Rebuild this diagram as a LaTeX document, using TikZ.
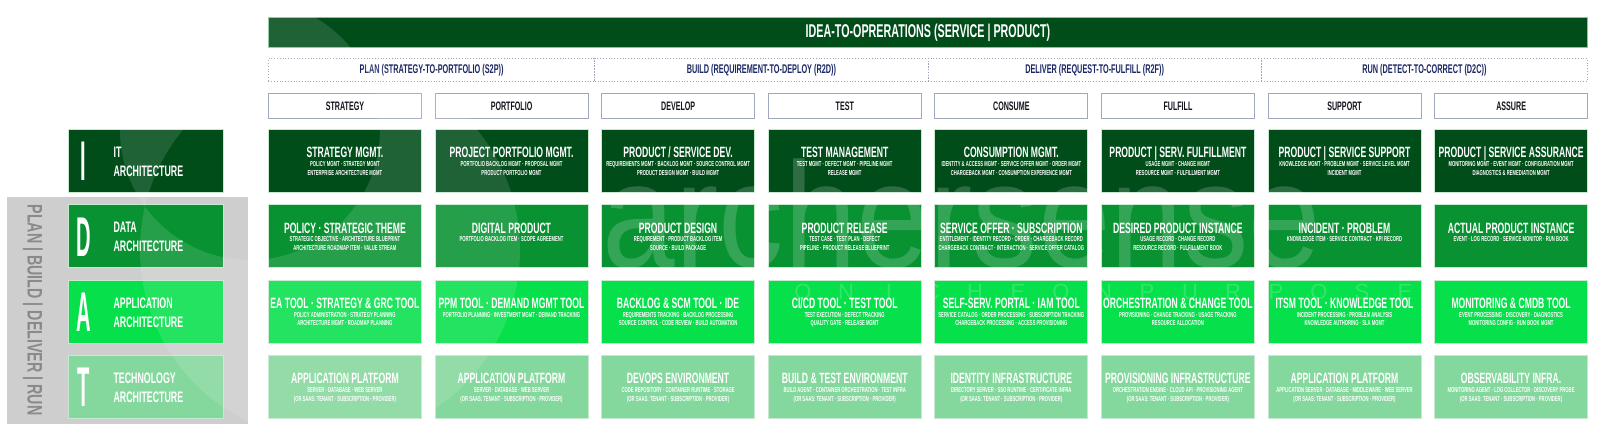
\documentclass[tikz,border=0pt]{standalone}
\usepackage{fontspec}
\newfontfamily\cf[FakeStretch=0.58]{Liberation Sans Bold}
\newfontfamily\wmf{Liberation Sans}
\usetikzlibrary{calc}
\definecolor{dkg}{RGB}{0,77,26}
\definecolor{mdg}{RGB}{8,146,50}
\definecolor{brg}{RGB}{6,224,74}
\definecolor{ltg}{RGB}{133,216,157}
\definecolor{navy}{RGB}{28,40,100}
\definecolor{hdrline}{RGB}{160,168,192}
\definecolor{cellline}{RGB}{200,232,208}
\definecolor{barline}{RGB}{140,195,155}
\definecolor{graybox}{RGB}{206,206,206}
\definecolor{graytxt}{RGB}{138,138,138}
\definecolor{hdrtxt}{RGB}{20,20,30}
\tikzset{
  cellbox/.style={draw=cellline, line width=0.8pt, minimum width=153pt, minimum height=63pt, inner sep=0pt, anchor=north west},
  lblbox/.style={draw=cellline, line width=0.8pt, minimum width=155pt, minimum height=63pt, inner sep=0pt, anchor=north west},
  hdrbox/.style={draw=hdrline, fill=white, line width=0.9pt, minimum width=153pt, minimum height=25pt, inner sep=0pt, anchor=north west},
  phasebox/.style={draw=hdrline, dotted, line width=0.8pt},
  ttl/.style={font={\cf\fontsize{14.9}{15}\selectfont}, text=white, anchor=base, inner sep=0pt},
  subl/.style={font={\cf\fontsize{7.2}{7.2}\selectfont}, text=white, anchor=base, inner sep=0pt},
  bigl/.style={font={\cf\fontsize{56}{56}\selectfont}, text=white, anchor=base, inner sep=0pt},
  lbltxt/.style={font={\cf\fontsize{15.2}{15}\selectfont}, text=white, anchor=base west, inner sep=0pt},
  hdrt/.style={font={\cf\fontsize{12.3}{12}\selectfont}, text=hdrtxt, inner sep=0pt},
  phaset/.style={font={\cf\fontsize{12.6}{12}\selectfont}, text=navy, inner sep=0pt},
  wmark/.style={text=white, text opacity=0.18, anchor=base, inner sep=0pt},
}
\newcommand\mkcell[7]{%
  \pgfmathsetmacro\cellx{268+166.6*#2}%
  \pgfmathsetmacro\celly{129+75.3*#3}%
  \node[cellbox, fill=#4] (#1) at (\cellx,\celly) {};
  \node[ttl] (#1t) at ($(#1.center)+(0,-3.2)$) {#5};
  \node[subl] (#1a) at ($(#1.center)+(0,5.6)$) {#6};
  \node[subl] (#1b) at ($(#1.center)+(0,14.3)$) {#7};
}
\newcommand\mklabel[6]{%
  \pgfmathsetmacro\celly{129+75.3*#2}%
  \node[lblbox, fill=#3] (#1) at (68,\celly) {};
  \node[bigl] (#1L) at ($(#1.center)+(-62.5,20)$) {\scalebox{0.62}[1]{#4}};
  \node[lbltxt] (#1a) at ($(#1.center)+(-32.5,-3.5)$) {#5};
  \node[lbltxt] (#1b) at ($(#1.center)+(-32.5,15.5)$) {#6};
}
\newcommand\mkhdr[3]{%
  \pgfmathsetmacro\cellx{268+166.6*#2}%
  \node[hdrbox] (#1) at (\cellx,93) {};
  \node[hdrt] (#1t) at (#1.center) {#3};
}
\begin{document}
\begin{tikzpicture}[x=1pt,y=-1pt]
\useasboundingbox (0,0) rectangle (1600,444);
\fill[white] (0,0) rectangle (1600,444);
% left grey band
\fill[graybox] (7,197) rectangle (248,424);
\node[rotate=-90, font={\cf\fontsize{21}{21}\selectfont}, text=graytxt, inner sep=0pt] (vt) at (33,310) {\scalebox{1.17}[1]{PLAN | BUILD | DELIVER | RUN}};
% top bar
\node[draw=barline, fill=dkg, line width=0.8pt, minimum width=1319pt, minimum height=30pt, inner sep=0pt, anchor=north west] (bar) at (268,17) {};
\node[font={\cf\fontsize{18.5}{18}\selectfont}, text=white, inner sep=0pt] (bart) at (bar.center) {IDEA-TO-OPRERATIONS (SERVICE | PRODUCT)};
% phases
\node[phasebox, minimum width=326.4pt, minimum height=23pt, inner sep=0pt, anchor=north west] (ph1) at (268,58) {};
\node[phasebox, minimum width=333.2pt, minimum height=23pt, inner sep=0pt, anchor=north west] (ph2) at (594.4,58) {};
\node[phasebox, minimum width=333.2pt, minimum height=23pt, inner sep=0pt, anchor=north west] (ph3) at (927.6,58) {};
\node[phasebox, minimum width=326.4pt, minimum height=23pt, inner sep=0pt, anchor=north west] (ph4) at (1260.8,58) {};
\node[phaset] (ph1t) at (ph1.center) {PLAN (STRATEGY-TO-PORTFOLIO (S2P))};
\node[phaset] (ph2t) at (ph2.center) {BUILD (REQUIREMENT-TO-DEPLOY (R2D))};
\node[phaset] (ph3t) at (ph3.center) {DELIVER (REQUEST-TO-FULFILL (R2F))};
\node[phaset] (ph4t) at (ph4.center) {RUN (DETECT-TO-CORRECT (D2C))};
% column headers
\mkhdr{h0}{0}{STRATEGY}
\mkhdr{h1}{1}{PORTFOLIO}
\mkhdr{h2}{2}{DEVELOP}
\mkhdr{h3}{3}{TEST}
\mkhdr{h4}{4}{CONSUME}
\mkhdr{h5}{5}{FULFILL}
\mkhdr{h6}{6}{SUPPORT}
\mkhdr{h7}{7}{ASSURE}
% left labels
\mklabel{lI}{0}{dkg}{I}{IT}{ARCHITECTURE}
\mklabel{lD}{1}{mdg}{D}{DATA}{ARCHITECTURE}
\mklabel{lA}{2}{brg}{A}{APPLICATION}{ARCHITECTURE}
\mklabel{lT}{3}{ltg}{T}{TECHNOLOGY}{ARCHITECTURE}
% row I
\mkcell{i0}{0}{0}{dkg}{STRATEGY MGMT.}{POLICY MGMT · STRATEGY MGMT}{ENTERPRISE ARCHITECTURE MGMT}
\mkcell{i1}{1}{0}{dkg}{PROJECT PORTFOLIO MGMT.}{PORTFOLIO BACKLOG MGMT · PROPOSAL MGMT}{PRODUCT PORTFOLIO MGMT}
\mkcell{i2}{2}{0}{dkg}{PRODUCT / SERVICE DEV.}{REQUIREMENTS MGMT · BACKLOG MGMT · SOURCE CONTROL MGMT}{PRODUCT DESIGN MGMT · BUILD MGMT}
\mkcell{i3}{3}{0}{dkg}{TEST MANAGEMENT}{TEST MGMT · DEFECT MGMT · PIPELINE MGMT}{RELEASE MGMT}
\mkcell{i4}{4}{0}{dkg}{CONSUMPTION MGMT.}{IDENTITY \& ACCESS MGMT · SERVICE OFFER MGMT · ORDER MGMT}{CHARGEBACK MGMT · CONSUMPTION EXPERIENCE MGMT}
\mkcell{i5}{5}{0}{dkg}{PRODUCT | SERV. FULFILLMENT}{USAGE MGMT · CHANGE MGMT}{RESOURCE MGMT · FULFILLMENT MGMT}
\mkcell{i6}{6}{0}{dkg}{PRODUCT | SERVICE SUPPORT}{KNOWLEDGE MGMT · PROBLEM MGMT · SERVICE LEVEL MGMT}{INCIDENT MGMT}
\mkcell{i7}{7}{0}{dkg}{PRODUCT | SERVICE ASSURANCE}{MONITORING MGMT · EVENT MGMT · CONFIGURATION MGMT}{DIAGNOSTICS \& REMEDIATION MGMT}
% row D
\mkcell{d0}{0}{1}{mdg}{POLICY · STRATEGIC THEME}{STRATEGIC OBJECTIVE · ARCHITECTURE BLUEPRINT}{ARCHITECTURE ROADMAP ITEM · VALUE STREAM}
\mkcell{d1}{1}{1}{mdg}{DIGITAL PRODUCT}{PORTFOLIO BACKLOG ITEM · SCOPE AGREEMENT}{}
\mkcell{d2}{2}{1}{mdg}{PRODUCT DESIGN}{REQUIREMENT · PRODUCT BACKLOG ITEM}{SOURCE · BUILD PACKAGE}
\mkcell{d3}{3}{1}{mdg}{PRODUCT RELEASE}{TEST CASE · TEST PLAN · DEFECT}{PIPELINE · PRODUCT RELEASE BLUEPRINT}
\mkcell{d4}{4}{1}{mdg}{SERVICE OFFER · SUBSCRIPTION}{ENTITLEMENT · IDENTITY RECORD · ORDER · CHARGEBACK RECORD}{CHARGEBACK CONTRACT · INTERACTION · SERVICE OFFER CATALOG}
\mkcell{d5}{5}{1}{mdg}{DESIRED PRODUCT INSTANCE}{USAGE RECORD · CHANGE RECORD}{RESOURCE RECORD · FULFILLMENT BOOK}
\mkcell{d6}{6}{1}{mdg}{INCIDENT · PROBLEM}{KNOWLEDGE ITEM · SERVICE CONTRACT · KPI RECORD}{}
\mkcell{d7}{7}{1}{mdg}{ACTUAL PRODUCT INSTANCE}{EVENT · LOG RECORD · SERVICE MONITOR · RUN BOOK}{}
% row A
\mkcell{a0}{0}{2}{brg}{EA TOOL · STRATEGY \& GRC TOOL}{POLICY ADMINISTRATION · STRATEGY PLANNING}{ARCHITECTURE MGMT · ROADMAP PLANNING}
\mkcell{a1}{1}{2}{brg}{PPM TOOL · DEMAND MGMT TOOL}{PORTFOLIO PLANNING · INVESTMENT MGMT · DEMAND TRACKING}{}
\mkcell{a2}{2}{2}{brg}{BACKLOG \& SCM TOOL · IDE}{REQUIREMENTS TRACKING · BACKLOG PROCESSING}{SOURCE CONTROL · CODE REVIEW · BUILD AUTOMATION}
\mkcell{a3}{3}{2}{brg}{CI/CD TOOL · TEST TOOL}{TEST EXECUTION · DEFECT TRACKING}{QUALITY GATE · RELEASE MGMT}
\mkcell{a4}{4}{2}{brg}{SELF-SERV. PORTAL · IAM TOOL}{SERVICE CATALOG · ORDER PROCESSING · SUBSCRIPTION TRACKING}{CHARGEBACK PROCESSING · ACCESS PROVISIONING}
\mkcell{a5}{5}{2}{brg}{ORCHESTRATION \& CHANGE TOOL}{PROVISIONING · CHANGE TRACKING · USAGE TRACKING}{RESOURCE ALLOCATION}
\mkcell{a6}{6}{2}{brg}{ITSM TOOL · KNOWLEDGE TOOL}{INCIDENT PROCESSING · PROBLEM ANALYSIS}{KNOWLEDGE AUTHORING · SLA MGMT}
\mkcell{a7}{7}{2}{brg}{MONITORING \& CMDB TOOL}{EVENT PROCESSING · DISCOVERY · DIAGNOSTICS}{MONITORING CONFIG · RUN BOOK MGMT}
% row T
\mkcell{t0}{0}{3}{ltg}{APPLICATION PLATFORM}{SERVER · DATABASE · WEB SERVER}{(OR SAAS: TENANT · SUBSCRIPTION · PROVIDER)}
\mkcell{t1}{1}{3}{ltg}{APPLICATION PLATFORM}{SERVER · DATABASE · WEB SERVER}{(OR SAAS: TENANT · SUBSCRIPTION · PROVIDER)}
\mkcell{t2}{2}{3}{ltg}{DEVOPS ENVIRONMENT}{CODE REPOSITORY · CONTAINER RUNTIME · STORAGE}{(OR SAAS: TENANT · SUBSCRIPTION · PROVIDER)}
\mkcell{t3}{3}{3}{ltg}{BUILD \& TEST ENVIRONMENT}{BUILD AGENT · CONTAINER ORCHESTRATION · TEST INFRA}{(OR SAAS: TENANT · SUBSCRIPTION · PROVIDER)}
\mkcell{t4}{4}{3}{ltg}{IDENTITY INFRASTRUCTURE}{DIRECTORY SERVER · SSO RUNTIME · CERTIFICATE INFRA}{(OR SAAS: TENANT · SUBSCRIPTION · PROVIDER)}
\mkcell{t5}{5}{3}{ltg}{PROVISIONING INFRASTRUCTURE}{ORCHESTRATION ENGINE · CLOUD API · PROVISIONING AGENT}{(OR SAAS: TENANT · SUBSCRIPTION · PROVIDER)}
\mkcell{t6}{6}{3}{ltg}{APPLICATION PLATFORM}{APPLICATION SERVER · DATABASE · MIDDLEWARE · WEB SERVER}{(OR SAAS: TENANT · SUBSCRIPTION · PROVIDER)}
\mkcell{t7}{7}{3}{ltg}{OBSERVABILITY INFRA.}{MONITORING AGENT · LOG COLLECTOR · DISCOVERY PROBE}{(OR SAAS: TENANT · SUBSCRIPTION · PROVIDER)}
% watermark
\fill[white, opacity=0.12, even odd rule] (330,250) circle (190) (250,130) circle (130);
\node[wmark, font={\wmf\fontsize{150}{150}\selectfont}] (wm) at (962,267) {\scalebox{0.87}[1]{archersense}};
\foreach \ch [count=\k from 0] in {N,O,N,I,C,H,E,O,N,P,U,R,P,O,S,E}{
  \node[wmark, font={\wmf\fontsize{22}{22}\selectfont}] (tg\k) at (760+43*\k,299) {\ch};
}
\end{tikzpicture}
\end{document}
